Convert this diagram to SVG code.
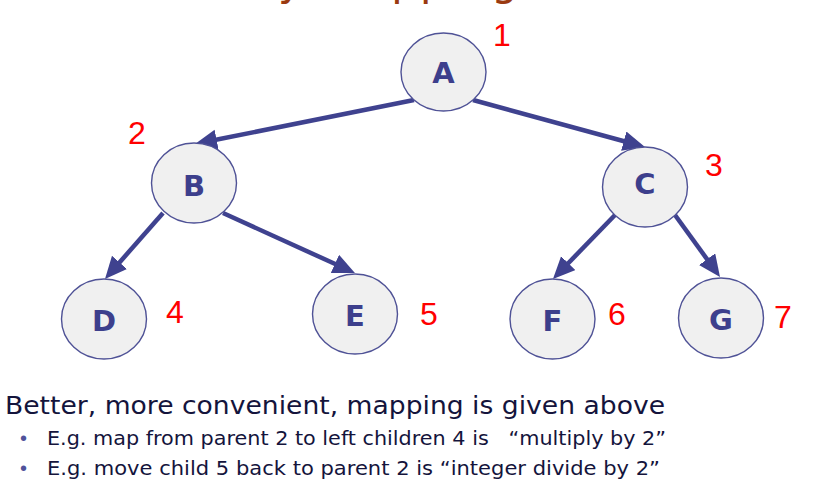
<svg xmlns="http://www.w3.org/2000/svg" width="823" height="489" viewBox="0 0 823 489">
<style>
.node ellipse{fill:#f0f0f0;stroke:#4f5296;stroke-width:1.4}
.node text{font-family:"DejaVu Sans","Liberation Sans",sans-serif;font-weight:bold;font-size:29px;fill:#3d3f8c;text-anchor:middle}
.num{font-family:"Liberation Sans",Arial,sans-serif;font-size:32px;fill:#ff0000}
.edge{stroke:#3f428f;stroke-width:4.5;fill:none;marker-end:url(#ah)}
.body{font-family:"DejaVu Sans","Liberation Sans",sans-serif;fill:#14143c}
.bul{font-family:"Liberation Sans",Arial,sans-serif;fill:#50529a}
</style>
<defs>
<marker id="ah" markerUnits="userSpaceOnUse" markerWidth="24" markerHeight="22" refX="7" refY="10" orient="auto">
<path d="M0,0 L22,10 L0,20 Z" fill="#3f428f"/>
</marker>
</defs>
<rect width="823" height="489" fill="#ffffff"/>
<text x="278" y="-5" font-family="DejaVu Sans,sans-serif" font-size="42" fill="#9a3a10" textLength="240" lengthAdjust="spacing">y mapping</text>
<g id="connectors">
<line class="edge" x1="414" y1="100" x2="209.7" y2="141"/>
<line class="edge" x1="473" y1="100" x2="630.5" y2="143"/>
<line class="edge" x1="163" y1="213" x2="114.9" y2="267.7"/>
<line class="edge" x1="223" y1="213" x2="341.3" y2="266.8"/>
<line class="edge" x1="615" y1="215" x2="563.4" y2="268.2"/>
<line class="edge" x1="675" y1="215" x2="711.2" y2="264.9"/>
</g>
<g id="nodeA" class="node"><ellipse cx="443.5" cy="72" rx="42.5" ry="39"/><text x="443.5" y="83">A</text></g>
<g id="nodeB" class="node"><ellipse cx="194" cy="183" rx="42.5" ry="40"/><text x="194" y="196">B</text></g>
<g id="nodeC" class="node"><ellipse cx="645" cy="187" rx="42.5" ry="40"/><text x="645" y="194">C</text></g>
<g id="nodeD" class="node"><ellipse cx="104" cy="319" rx="42.5" ry="40"/><text x="104" y="331">D</text></g>
<g id="nodeE" class="node"><ellipse cx="355" cy="314" rx="42.5" ry="40"/><text x="355" y="326">E</text></g>
<g id="nodeF" class="node"><ellipse cx="552.5" cy="319" rx="42.5" ry="40"/><text x="552.5" y="331">F</text></g>
<g id="nodeG" class="node"><ellipse cx="721" cy="318" rx="42.5" ry="40"/><text x="721" y="330">G</text></g>
<g id="labels">
<text class="num" x="493" y="46">1</text>
<text class="num" x="128" y="144">2</text>
<text class="num" x="705" y="176">3</text>
<text class="num" x="166" y="323">4</text>
<text class="num" x="420" y="325">5</text>
<text class="num" x="608" y="325">6</text>
<text class="num" x="774" y="328">7</text>
</g>
<g id="text">
<text class="body" x="5" y="414" font-size="25" textLength="660" lengthAdjust="spacingAndGlyphs">Better, more convenient, mapping is given above</text>
<text class="bul" x="20" y="445" font-size="20">•</text>
<text class="body" x="47" y="445" font-size="19" textLength="619" lengthAdjust="spacingAndGlyphs" xml:space="preserve">E.g. map from parent 2 to left children 4 is   “multiply by 2”</text>
<text class="bul" x="20" y="475" font-size="20">•</text>
<text class="body" x="47" y="475" font-size="19" textLength="613" lengthAdjust="spacingAndGlyphs">E.g. move child 5 back to parent 2 is “integer divide by 2”</text>
</g>
</svg>
